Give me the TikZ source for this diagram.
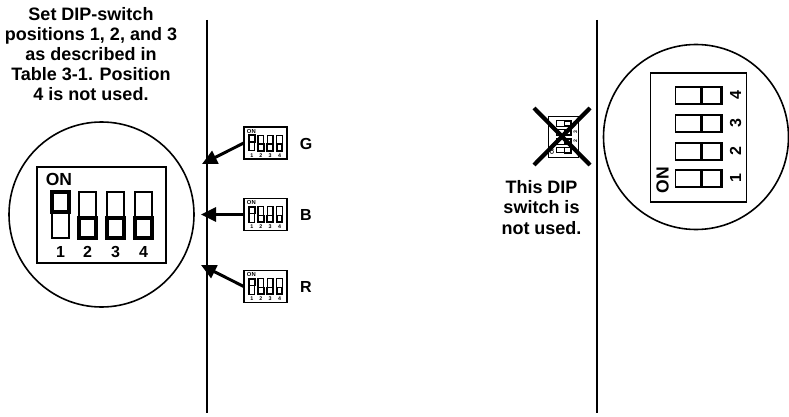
\documentclass[tikz,border=0pt]{standalone}
\usepackage{fontspec}
\setmainfont{Liberation Sans}
\usetikzlibrary{arrows.meta}
\newcommand{\bfpx}[2]{\fontsize{#1pt}{#2pt}\selectfont\bfseries}
\tikzset{
  x=1pt,y=1pt,
  rail/.style={line width=1.8pt},
  lens/.style={draw,circle,line width=1.6pt,minimum size=185pt,inner sep=0pt},
  pointer/.style={line width=3pt,-{Triangle[length=15pt,width=14pt]}},
  crossbar/.style={line width=4.2pt},
  caption/.style={align=center,inner sep=0pt},
  keylabel/.style={inner sep=0pt,font=\bfpx{16}{18}},
  dipframe/.style={draw,fill=white,inner sep=0pt,transform shape,minimum width=129pt,minimum height=96pt},
  diptext/.style={inner sep=0pt,transform shape}
}
% #1 name, #2 position, #3 scale, #4 rotation, #5 frame lw, #6 thin lw, #7 thick lw, #8 state of switch 1 (3=on,-3=off)
\newcommand{\dipsw}[8]{%
\begin{scope}[shift={#2},rotate=#4,scale=#3]
  \node[dipframe,line width=#5pt] (#1) at (0,0) {};
  \node[diptext,font=\bfpx{17.5}{18}] (#1on) at (-42.5,36) {ON};
  \foreach \cx/\lab/\st in {-41/1/#8,-14/2/-3,14/3/-3,42/4/-3}{
    \draw[line width=#6pt] (\cx-8.5,-23) rectangle (\cx+8.5,23);
    \ifnum\st>0
      \draw[line width=#7pt] (\cx-8.5,\st) rectangle (\cx+8.5,23);
    \else
      \draw[line width=#7pt] (\cx-8.5,-23) rectangle (\cx+8.5,\st);
    \fi
    \node[diptext,font=\bfpx{16}{18}] (#1n\lab) at (\cx,-37) {\lab};
  }
\end{scope}}
\begin{document}
\begin{tikzpicture}
\useasboundingbox (0,0) rectangle (789,-417);
\coordinate (l1t) at (207,-20); \coordinate (l1b) at (207,-413);
\coordinate (l2t) at (597,-20); \coordinate (l2b) at (597,-413);
\draw[rail] (l1t) -- (l1b);
\draw[rail] (l2t) -- (l2b);
\node[caption,font=\bfpx{18}{20}] (note) at (91,-54) {Set DIP-switch\\positions 1, 2, and 3\\as described in\\Table 3-1. Position\\4 is not used.};
\node[lens] (leftlens) at (101.5,-214.5) {};
\dipsw{bigl}{(101.5,-215)}{1}{0}{1.8}{1.6}{3.05}{3}
\node[lens] (rightlens) at (696,-137) {};
\dipsw{bigr}{(698.5,-137.5)}{1}{90}{1.8}{1.6}{2.4}{-3}
\dipsw{g}{(265.5,-143)}{0.333}{0}{1.2}{1.2}{1.8}{3}
\dipsw{b}{(265.5,-214.5)}{0.333}{0}{1.2}{1.2}{1.8}{3}
\dipsw{r}{(265.5,-286.5)}{0.333}{0}{1.2}{1.2}{1.8}{3}
\node[keylabel] (gl) at (306,-144) {G};
\node[keylabel] (bl) at (306,-215) {B};
\node[keylabel] (rl) at (306,-287) {R};
\coordinate (ga) at (202,-164);
\coordinate (ba) at (201,-214.5);
\coordinate (ra) at (201,-265);
\draw[pointer] (g.west) -- (ga);
\draw[pointer] (b.west) -- (ba);
\draw[pointer] (r.west) -- (ra);
\dipsw{x}{(563.5,-137)}{0.32}{90}{1.2}{1.2}{1.8}{-3}
\coordinate (xa) at (534,-108); \coordinate (xb) at (590,-165);
\coordinate (xc) at (590,-108); \coordinate (xd) at (534,-165);
\draw[crossbar] (xa) -- (xb);
\draw[crossbar] (xc) -- (xd);
\node[caption,font=\bfpx{18}{20.5}] (unused) at (541.5,-207.5) {This DIP\\switch is\\not used.};
\end{tikzpicture}
\end{document}
